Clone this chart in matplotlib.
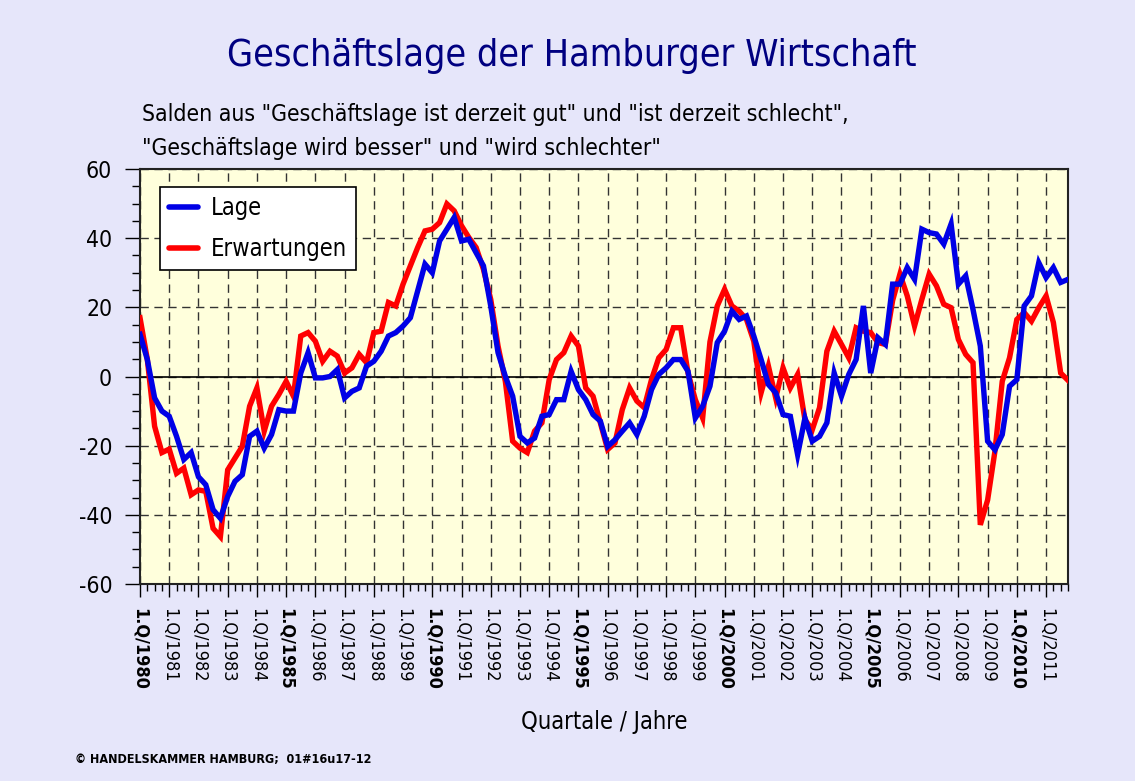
import matplotlib
matplotlib.use("Agg")
import matplotlib.pyplot as plt
from matplotlib.lines import Line2D
import numpy as np

# quarterly balances 1.Q/1980 .. 4.Q/2011
lage = [12.2, 4.9, -6.2, -10, -11.5, -17.3, -24, -22, -29, -31.3, -38.5, -41,
        -34.7, -30.3, -28.4, -17.3, -15.8, -20.7, -16.8, -9.6, -10, -10, 1, 6.9,
        -0.4, -0.4, 0, 2, -6.2, -4.3, -3.3, 3, 4.4, 7.3, 11.7, 12.7,
        14.6, 17, 24.7, 32.5, 30, 39.2, 42.6, 46, 39.2, 39.7, 35.8, 32,
        20.4, 6.9, 0, -5.7, -17.3, -19.2, -17.8, -11.5, -11, -6.7, -6.7, 1.5,
        -3.8, -6.7, -11, -12.9, -20.2, -18.3, -15.8, -13.4, -16.8, -11.5, -3.8, 0.6,
        2.5, 4.9, 4.9, 1.5, -12, -8.6, -2.8, 9.8, 13.1, 18.9, 16.5, 17.5,
        11.7, 4.9, -2.3, -4.7, -11, -11.5, -22.6, -12, -18.7, -17.3, -13.4, 1,
        -5.7, 0.6, 4.9, 20.4, 1, 11.2, 9.3, 26.7, 26.7, 31.5, 28.1, 42.6,
        41.6, 41.2, 38.3, 44.1, 26.7, 29.1, 19.4, 8.8, -18.7, -21.2, -16.8, -2.8,
        -0.9, 20.4, 23.3, 32.9, 28.6, 31.5, 27.2, 28.1]

erwartungen = [17, 5, -14.4, -22, -21, -28, -26.5, -34.2, -32.8, -33.2, -43.9, -46.3,
               -27, -23.6, -20.2, -8.6, -3.3, -15.8, -8.6, -5.2, -1.4, -5.7, 11.7, 12.7,
               10.2, 4.4, 7.3, 5.9, 1, 2.5, 6.4, 4, 12.7, 13.1, 21.4, 20.4,
               26.7, 32, 37.3, 42.1, 42.6, 44.5, 49.9, 47.9, 43.6, 40.2, 37.3, 31,
               22.3, 8.8, -1.4, -18.7, -20.7, -22, -15.8, -13.4, -0.9, 4.9, 6.9, 11.7,
               8.8, -3.3, -5.7, -13.4, -21.1, -19.2, -9.6, -3.3, -7.1, -9, -0.9, 5.4,
               7.8, 14.1, 14.1, 1, -6.7, -12, 10, 20.4, 25.2, 20.4, 18.9, 16.5,
               10.2, -4.7, 3, -6.2, 2.5, -3.3, 0.6, -12.5, -15.4, -9, 7.3, 13.1,
               9.3, 5.4, 14.1, 13.1, 12.7, 9.8, 9.3, 22, 29.6, 23.3, 14.6, 22.3,
               29.6, 26.2, 20.9, 19.9, 10.7, 6.4, 4, -42.9, -35.7, -21.6, -1.4, 5.4,
               16.5, 18.5, 16, 19.9, 23.3, 15.6, 1, -1.1]

years = list(range(1980, 2012))
year_labels = ["1.Q/%d" % y for y in years]
ytick_vals = list(range(-60, 61, 20))
ytick_labels = ["-%d" % -v if v < 0 else "%d" % v for v in ytick_vals]

plt.rcParams["font.family"] = ["DejaVu Sans"]
plt.rcParams["font.stretch"] = "condensed"

fig = plt.figure(figsize=(11.35, 7.81), dpi=100, facecolor="#E6E6FA")
ax = fig.add_axes([140 / 1135, 197 / 781, 928 / 1135, 415 / 781])
ax.set_facecolor("#FFFFDC")

x = np.arange(len(lage))
ax.plot(x, erwartungen, color="#FF0000", lw=3.9, solid_joinstyle="miter", zorder=3)
ax.plot(x, lage, color="#0000E6", lw=3.9, solid_joinstyle="miter", zorder=4)

ax.set_xlim(0, len(lage) - 1)
ax.set_ylim(-60, 60)

ax.set_yticks(ytick_vals)
ax.set_yticklabels(ytick_labels)
ax.set_yticks(np.arange(-60, 61, 5), minor=True)
ax.set_xticks(np.arange(0, len(lage), 4))
ax.set_xticks(x, minor=True)
ax.set_xticklabels(year_labels, rotation=270, ha="center", va="top", fontsize=13)
for lbl, y in zip(ax.get_xticklabels(), years):
    if y % 5 == 0:
        lbl.set_fontweight("bold")
ax.tick_params(axis="y", which="major", direction="out", length=11, width=1, labelsize=16.5, pad=9)
ax.tick_params(axis="y", which="minor", direction="out", length=6, width=1)
ax.tick_params(axis="x", which="major", direction="out", length=9, width=1, pad=8)
ax.tick_params(axis="x", which="minor", direction="out", length=5, width=1)

ax.grid(True, which="major", color="#333333", lw=1, linestyle=(0, (6, 4)), zorder=1)
ax.axhline(0, color="black", lw=1.2, zorder=2)
for s in ax.spines.values():
    s.set_color("#222222")
    s.set_linewidth(1.5)

ax.set_xlabel("Quartale / Jahre", fontsize=17, va="center")
ax.xaxis.set_label_coords(0.5, (584 - 722) / 415)

handles = [Line2D([], [], color="#0000E6", lw=4, solid_capstyle="round"),
           Line2D([], [], color="#FF0000", lw=4, solid_capstyle="round")]
leg = ax.legend(handles, ["Lage", "Erwartungen"], loc="upper left",
                bbox_to_anchor=(20 / 928, (584 - 187) / 415), fontsize=17,
                handlelength=1.2, fancybox=False, framealpha=1, edgecolor="black",
                borderpad=0.4, labelspacing=0.7, handletextpad=0.55, borderaxespad=0)
leg.get_frame().set_linewidth(1.2)
leg.set_zorder(5)

fig.text(572 / 1135, 1 - 56 / 781, "Geschäftslage der Hamburger Wirtschaft",
         ha="center", va="center", fontsize=27, color="#000080")
fig.text(142 / 1135, 1 - 115 / 781, 'Salden aus "Geschäftslage ist derzeit gut" und "ist derzeit schlecht",',
         ha="left", va="center", fontsize=16.5)
fig.text(142 / 1135, 1 - 148 / 781, '"Geschäftslage wird besser" und "wird schlechter"',
         ha="left", va="center", fontsize=16.5)
fig.text(75 / 1135, 1 - 760 / 781, "© HANDELSKAMMER HAMBURG;  01#16u17-12",
         ha="left", va="center", fontsize=9, fontweight="bold")

fig.savefig("out.png", dpi=100, facecolor=fig.get_facecolor())
